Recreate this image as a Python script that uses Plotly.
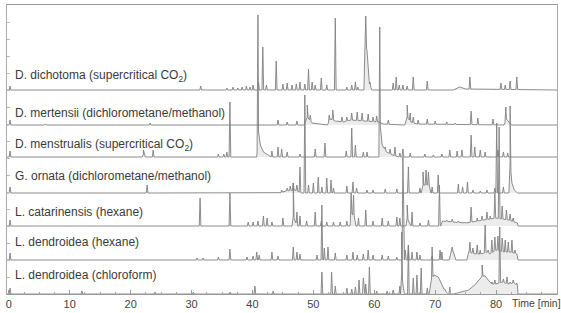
import numpy as np
import plotly.graph_objects as go

# ---------------- data ----------------
labels = [
    "D. dichotoma (supercritical CO<sub>2</sub>)",
    "D. mertensii (dichlorometane/methanol)",
    "D. menstrualis (supercritical CO<sub>2</sub>)",
    "G. ornata (dichlorometane/methanol)",
    "L. catarinensis (hexane)",
    "L. dendroidea (hexane)",
    "L. dendroidea (chloroform)",
]

x_ticks = [0, 10, 20, 30, 40, 50, 60, 70, 80]

# peak retention times [min] and heights (signal units) per chromatogram
t1_times = [0.2, 31.5, 35.8, 36.8, 37.6, 38.3, 39.0, 39.6, 40.1, 41.0, 41.7, 42.3, 43.9, 45.0, 45.7,
            46.5, 47.2, 47.8, 48.6, 49.2, 49.8, 50.3, 51.3, 52.2, 53.6, 55.5, 56.3, 56.9, 57.3, 58.6,
            59.3, 63.1, 63.6, 64.1, 64.7, 65.4, 66.4, 68.7, 75.7, 80.8, 81.5, 82.3, 83.4]
t1_heights = [4, 4, 2, 3, 2, 3, 4, 3, 5, 8, 43, 5, 29, 6, 7,
              5, 6, 8, 6, 21, 8, 5, 12, 5, 72, 3, 5, 8, 3, 74,
              8, 7, 13, 5, 5, 4, 13, 9, 13, 7, 5, 9, 13]
t1_drift_t = [58.3, 58.45, 58.8, 59.2, 59.6, 73.0, 74.0, 75.0]
t1_drift_v = [0, 45, 40, 6, 0, 0, 3, 1]

t2_times = [0.2, 6.0, 23.2, 44.2, 45.7, 47.3, 49.0, 49.5, 52.6, 53.2, 54.7, 55.5, 56.3, 57.2, 58.0,
            59.0, 59.8, 60.4, 62.3, 65.4, 65.9, 66.4, 67.2, 68.7, 70.0, 71.9, 73.3, 75.9, 77.0, 79.5, 81.6]
t2_heights = [5, 1, 2, 5, 3, 4, 20, 10, 10, 15, 8, 8, 12, 13, 12,
              11, 8, 9, 5, 20, 12, 8, 5, 6, 4, 3, 2, 14, 7, 6, 18]
t2_drift_t = [48.5, 49.0, 49.8, 52.3, 52.8, 53.6, 55.0, 56.0, 58.5, 60.7, 61.5, 65.0, 65.4, 66.0, 67.0,
              81.3, 81.7, 82.5]
t2_drift_v = [0, 8, 2, 0, 6, 4, 3, 5, 4, 3, 1, 0, 8, 3, 1,
              0, 6, 0]

t3_times = [0.2, 22.1, 23.7, 34.4, 35.3, 35.8, 36.3, 40.9, 42.1, 43.2, 44.2, 44.8, 45.7, 47.8, 50.3,
            51.9, 55.4, 56.3, 56.9, 58.2, 58.8, 60.9, 61.8, 62.6, 63.4, 64.2, 64.7, 65.9, 68.3, 69.7,
            71.1, 72.4, 73.6, 74.4, 75.9, 76.5, 77.4, 78.2, 80.3, 81.2, 81.9]
t3_heights = [6, 7, 7, 3, 3, 5, 55, 142, 4, 6, 10, 8, 5, 3, 8,
              14, 6, 29, 12, 5, 5, 130, 10, 8, 10, 4, 8, 4, 3, 2,
              3, 7, 6, 7, 22, 10, 7, 5, 7, 5, 4]
t3_drift_t = [21.9, 22.1, 22.4, 40.7, 41.0, 41.3, 41.8, 42.5, 43.0, 60.75, 61.0, 61.3, 62.0, 63.0, 64.0]
t3_drift_v = [0, 3, 0, 0, 25, 12, 5, 2, 0, 0, 30, 12, 5, 2, 0]

t4_times = [0.2, 22.7, 44.8, 45.7, 46.2, 46.7, 47.3, 47.8, 48.6, 49.2, 50.0, 50.8, 51.4, 52.2, 52.9,
            53.3, 55.5, 56.5, 57.1, 58.8, 59.8, 61.8, 63.7, 65.6, 67.5, 68.0, 68.5, 68.9, 69.5, 70.5,
            73.8, 74.5, 75.3, 76.2, 77.4, 78.5, 79.8, 80.1, 81.2, 82.3]
t4_heights = [6, 8, 3, 5, 7, 10, 8, 26, 98, 8, 10, 16, 6, 15, 13,
              5, 7, 11, 5, 3, 3, 4, 4, 26, 5, 21, 23, 21, 6, 18,
              9, 6, 11, 3, 2, 3, 5, 70, 6, 87]
t4_drift_t = [44.5, 45.5, 47.0, 48.0, 67.7, 68.0, 69.0, 69.3, 82.1, 82.3, 82.6, 83.0, 83.5]
t4_drift_v = [0, 2, 3, 0, 0, 8, 8, 0, 0, 30, 10, 3, 0]

t5_times = [0.2, 31.4, 36.3, 39.3, 40.1, 40.9, 41.8, 42.4, 43.2, 45.0, 46.7, 47.3, 47.8, 48.9, 50.3,
            51.3, 52.2, 53.3, 54.4, 55.5, 56.2, 56.6, 57.4, 58.6, 59.8, 61.3, 62.3, 63.7, 64.2, 65.4,
            66.2, 67.5, 68.9, 70.7, 71.9, 72.8, 73.8, 74.9, 75.9, 76.9, 77.7, 78.5, 79.0, 79.8, 80.5,
            81.0, 81.7, 82.3, 82.8, 83.4]
t5_heights = [6, 28, 33, 4, 4, 5, 10, 8, 4, 8, 43, 14, 10, 5, 14,
              5, 4, 4, 4, 5, 33, 31, 8, 16, 5, 8, 5, 9, 8, 21,
              14, 3, 6, 41, 6, 7, 5, 4, 19, 8, 10, 14, 10, 33, 99,
              20, 16, 12, 8, 3]
t5_drift_t = [46.5, 46.7, 47.0, 47.4, 56.0, 56.3, 56.7, 57.0, 65.2, 65.4, 65.7, 66.0,
              70.9, 71.2, 73.0, 75.0, 77.0, 79.0, 80.0, 82.0, 83.5, 83.6]
t5_drift_v = [0, 10, 5, 0, 0, 12, 10, 0, 0, 8, 4, 0,
              0, 5, 4, 3, 5, 7, 8, 6, 3, 0]

t6_times = [0.2, 30.9, 31.9, 34.4, 36.3, 39.1, 40.1, 40.7, 41.1, 43.2, 44.2, 46.7, 47.3, 47.8, 50.6,
            51.4, 51.8, 52.4, 53.6, 55.5, 56.5, 57.2, 58.2, 59.0, 59.8, 61.3, 62.3, 63.7, 64.7, 65.1,
            65.6, 66.2, 67.0, 67.5, 69.5, 70.8, 71.1, 72.8, 75.7, 76.2, 76.9, 77.4, 78.2, 78.7, 79.3,
            79.8, 80.3, 81.0, 81.5, 82.0, 82.6, 83.1]
t6_heights = [7, 2, 2, 3, 11, 3, 4, 8, 5, 8, 4, 13, 8, 6, 5,
              55, 12, 13, 7, 5, 8, 5, 6, 10, 5, 5, 4, 3, 103, 10,
              15, 8, 8, 5, 4, 10, 8, 13, 18, 12, 15, 10, 35, 10, 20,
              23, 24, 22, 20, 18, 20, 10]
t6_drift_t = [72.3, 72.6, 73.0, 73.4, 75.2, 75.5, 76.5, 77.5, 78.5, 79.0, 80.0, 81.2, 82.3, 83.4, 83.6]
t6_drift_v = [0, 8, 8, 0, 0, 8, 6, 6, 8, 6, 10, 8, 8, 6, 0]

t7_times = [0.2, 12.0, 24.0, 30.3, 36.3, 40.4, 43.4, 51.4, 53.0, 53.6, 55.5, 56.3, 56.9, 57.5, 58.2,
            58.6, 59.2, 60.4, 62.1, 63.1, 64.2, 64.5, 65.6, 66.4, 67.0, 67.7, 68.7, 69.5, 70.3, 71.1,
            71.6, 72.4, 77.7, 79.3, 79.8, 80.6, 81.2, 81.8, 82.3, 82.8, 83.4]
t7_heights = [6, 3, 2, 2, 2, 8, 3, 22, 22, 8, 6, 5, 7, 14, 16,
              10, 27, 3, 3, 4, 8, 62, 48, 16, 19, 26, 6, 47, 18, 10,
              5, 7, 29, 12, 14, 67, 15, 17, 12, 14, 11]
t7_drift_t = [64.3, 64.5, 64.8, 65.0, 69.0, 69.4, 69.8, 70.5, 70.9, 71.3, 71.8, 72.2,
              73.0, 74.5, 75.5, 76.5, 77.3, 77.7, 78.2, 78.7, 79.3, 80.0, 81.0, 82.0, 83.0, 83.5, 83.6]
t7_drift_v = [0, 20, 5, 0, 0, 15, 19, 17, 12, 6, 2, 0,
              0, 2, 4, 9, 14, 18, 18, 14, 10, 10, 12, 10, 11, 8, 0]

series = [
    (t1_times, t1_heights, t1_drift_t, t1_drift_v),
    (t2_times, t2_heights, t2_drift_t, t2_drift_v),
    (t3_times, t3_heights, t3_drift_t, t3_drift_v),
    (t4_times, t4_heights, t4_drift_t, t4_drift_v),
    (t5_times, t5_heights, t5_drift_t, t5_drift_v),
    (t6_times, t6_heights, t6_drift_t, t6_drift_v),
    (t7_times, t7_heights, t7_drift_t, t7_drift_v),
]

# ---------------- layout constants ----------------
X0, X1 = -0.3, 90.0
OFFSETS = [204, 169, 137, 101, 68, 34, 0]      # vertical stacking offsets
LABEL_Y = [218, 181, 149, 118, 82, 52, 19]    # label centre heights
HALF_W = 0.14                                  # half width of a peak drawn as a spike
LINE_COLOR = "#808080"
FILL_COLOR = "#ececec"
FONT = "Liberation Sans, Arial, Helvetica, sans-serif"


def build_trace(times, heights, dt, dv):
    bt = [X0] + list(dt) + [X1]
    bv = [0] + list(dv) + [0]
    order = np.argsort(bt, kind="stable")
    bt = np.array(bt)[order]
    bv = np.array(bv, dtype=float)[order]
    pts = list(zip(bt, bv))
    for t, h in zip(times, heights):
        for xx in (t - HALF_W, t + HALF_W):
            pts.append((xx, float(np.interp(xx, bt, bv))))
        pts.append((t, max(float(h), float(np.interp(t, bt, bv)))))
    pts.sort(key=lambda p: p[0])
    xs = [p[0] for p in pts]
    ys = [p[1] for p in pts]
    return xs, ys


fig = go.Figure()
built = []
for (times, heights, dt, dv), off in zip(series, OFFSETS):
    xs, ys = build_trace(times, heights, dt, dv)
    ys = [y + off for y in ys]
    built.append((xs, ys, off))

# light grey area fills first
for xs, ys, off in built:
    fig.add_trace(go.Scatter(
        x=xs + [X1, X0], y=ys + [off, off], mode="lines", fill="toself",
        fillcolor=FILL_COLOR, line=dict(width=0), hoverinfo="skip", showlegend=False))

# chromatogram lines on top
for xs, ys, off in built:
    fig.add_trace(go.Scatter(
        x=xs, y=ys, mode="lines", line=dict(color=LINE_COLOR, width=0.9),
        hoverinfo="skip", showlegend=False))

for lab, ly in zip(labels, LABEL_Y):
    fig.add_annotation(x=0.7, y=ly, xref="x", yref="y", text=lab, showarrow=False,
                       xanchor="left", yanchor="middle",
                       font=dict(family=FONT, size=12, color="#3a3a3a"))

fig.add_annotation(x=82.3, y=0, xref="x", yref="paper", text="Time [min]", showarrow=False,
                   xanchor="left", yanchor="top", yshift=-1,
                   font=dict(family=FONT, size=10.5, color="#444444"))

fig.update_xaxes(range=[X0, X1], tickvals=x_ticks, ticktext=[str(v) for v in x_ticks],
                 ticks="inside", ticklen=4, tickcolor="#999999", tickwidth=1,
                 minor=dict(dtick=2.5, tick0=0, ticks="inside", ticklen=2, tickcolor="#aaaaaa"),
                 showline=True, linecolor="#999999", linewidth=1, mirror=True,
                 showgrid=False, zeroline=False,
                 tickfont=dict(family=FONT, size=11, color="#444444"))
fig.update_yaxes(range=[0, 289], showticklabels=False, ticks="inside", ticklen=3,
                 tickcolor="#bbbbbb", dtick=17, tick0=0,
                 showline=True, linecolor="#aaaaaa", linewidth=1, mirror=True,
                 showgrid=False, zeroline=False)

fig.update_layout(width=561, height=313, margin=dict(l=7, r=4, t=5, b=19),
                  paper_bgcolor="white", plot_bgcolor="white", showlegend=False)

fig.write_html("out.html")
